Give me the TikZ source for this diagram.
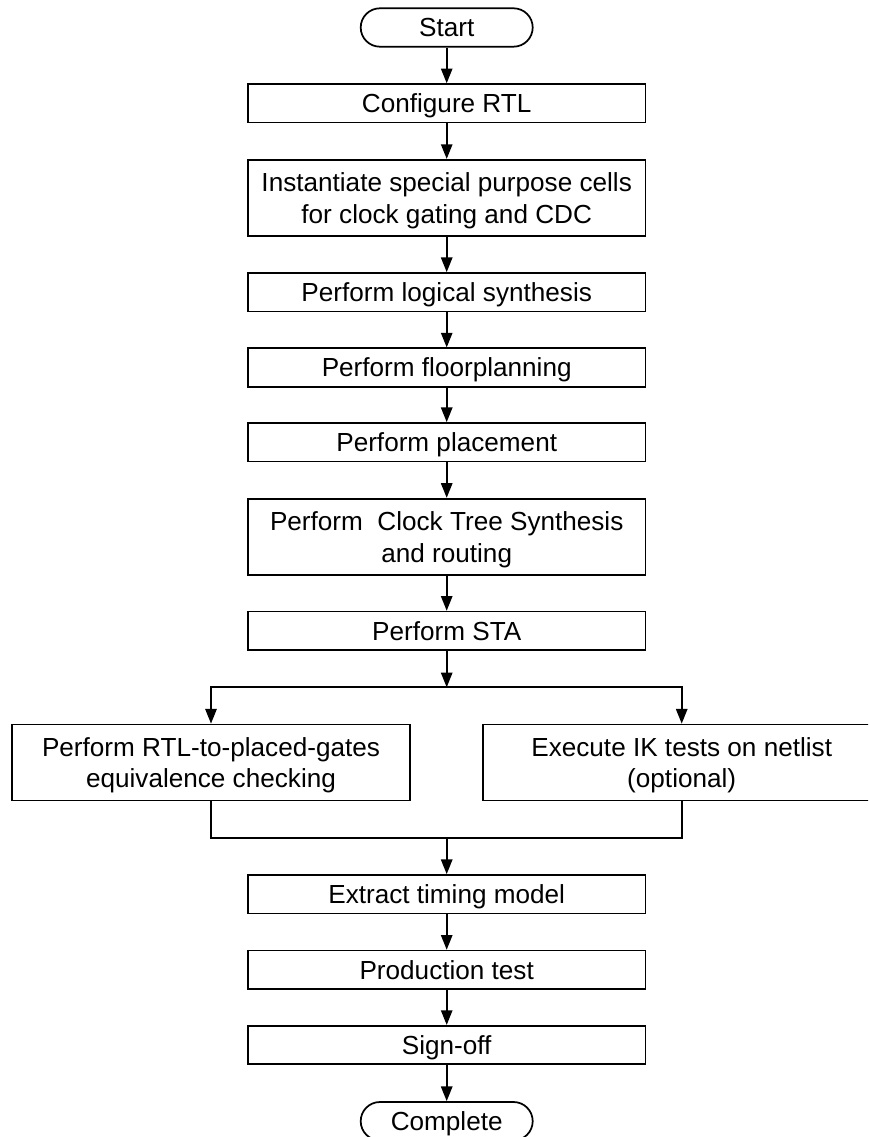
\documentclass[tikz,border=0pt]{standalone}
\usepackage{fontspec}
\setmainfont{Liberation Sans}
\usetikzlibrary{arrows.meta}
% last line of a two-line label, set without descender depth
\newcommand{\lastline}[1]{\raisebox{0pt}[\height][0pt]{#1}}
\begin{document}
\begin{tikzpicture}[x=0.75pt,y=-0.75pt,
  every node/.style={font=\fontsize{19.6}{23.8}\selectfont},
  framed/.style={draw, line width=1.3pt, minimum width=298pt, inner sep=0pt, align=center},
  box/.style={framed, minimum height=28.8pt, text height=14.1pt, text depth=0pt},
  tallbox/.style={framed, minimum height=57pt},
  term/.style={draw, line width=1.3pt, rounded corners=14.4pt, minimum width=129pt, minimum height=28.8pt, inner sep=0pt, text height=14.1pt, text depth=0pt},
  flow/.style={line width=1.3pt, -{Triangle[width=8.5pt,length=11pt]}},
  link/.style={line width=1.3pt}]
\clip (0,0) rectangle (868,1137);
\fill[white] (0,0) rectangle (868,1137);

% main column
\node[term]    (start)   at (446.7,27.5)  {Start};
\node[box]     (cfg)     at (446.7,103.3) {Configure RTL};
\node[tallbox] (inst)    at (446.7,197.8) {Instantiate special purpose cells\\\lastline{for clock gating and CDC}};
\node[box]     (synth)   at (446.7,292.2) {Perform logical synthesis};
\node[box]     (floor)   at (446.7,367.5) {Perform floorplanning};
\node[box]     (place)   at (446.7,442.2) {Perform placement};
\node[tallbox] (cts)     at (446.7,536.7) {Perform\ \ Clock Tree Synthesis\\\lastline{and routing}};
\node[box]     (sta)     at (446.7,630.8) {Perform STA};

% parallel branch
\coordinate (split) at (446.7,687.3);
\node[tallbox] (eq) at (211,762.5) {Perform RTL-to-placed-gates\\\lastline{equivalence checking}};
\node[tallbox] (ik) at (681.7,762.5) {Execute IK tests on netlist\\\lastline{(optional)}};
\coordinate (join) at (446.7,838.3);

\node[box]     (etm)     at (446.7,894.2) {Extract timing model};
\node[box]     (prod)    at (446.7,969.8) {Production test};
\node[box]     (sign)    at (446.7,1045)  {Sign-off};
\node[term]    (done)    at (446.7,1121.2) {Complete};

% connectors
\draw[flow] (start) -- (cfg);
\draw[flow] (cfg) -- (inst);
\draw[flow] (inst) -- (synth);
\draw[flow] (synth) -- (floor);
\draw[flow] (floor) -- (place);
\draw[flow] (place) -- (cts);
\draw[flow] (cts) -- (sta);
\draw[flow] (sta) -- (split);
\draw[flow] (split) -| (eq.north);
\draw[flow] (split) -| (ik.north);
\draw[link] (eq.south) |- (join);
\draw[link] (ik.south) |- (join);
\draw[flow] (join) -- (etm);
\draw[flow] (etm) -- (prod);
\draw[flow] (prod) -- (sign);
\draw[flow] (sign) -- (done);
\end{tikzpicture}
\end{document}
